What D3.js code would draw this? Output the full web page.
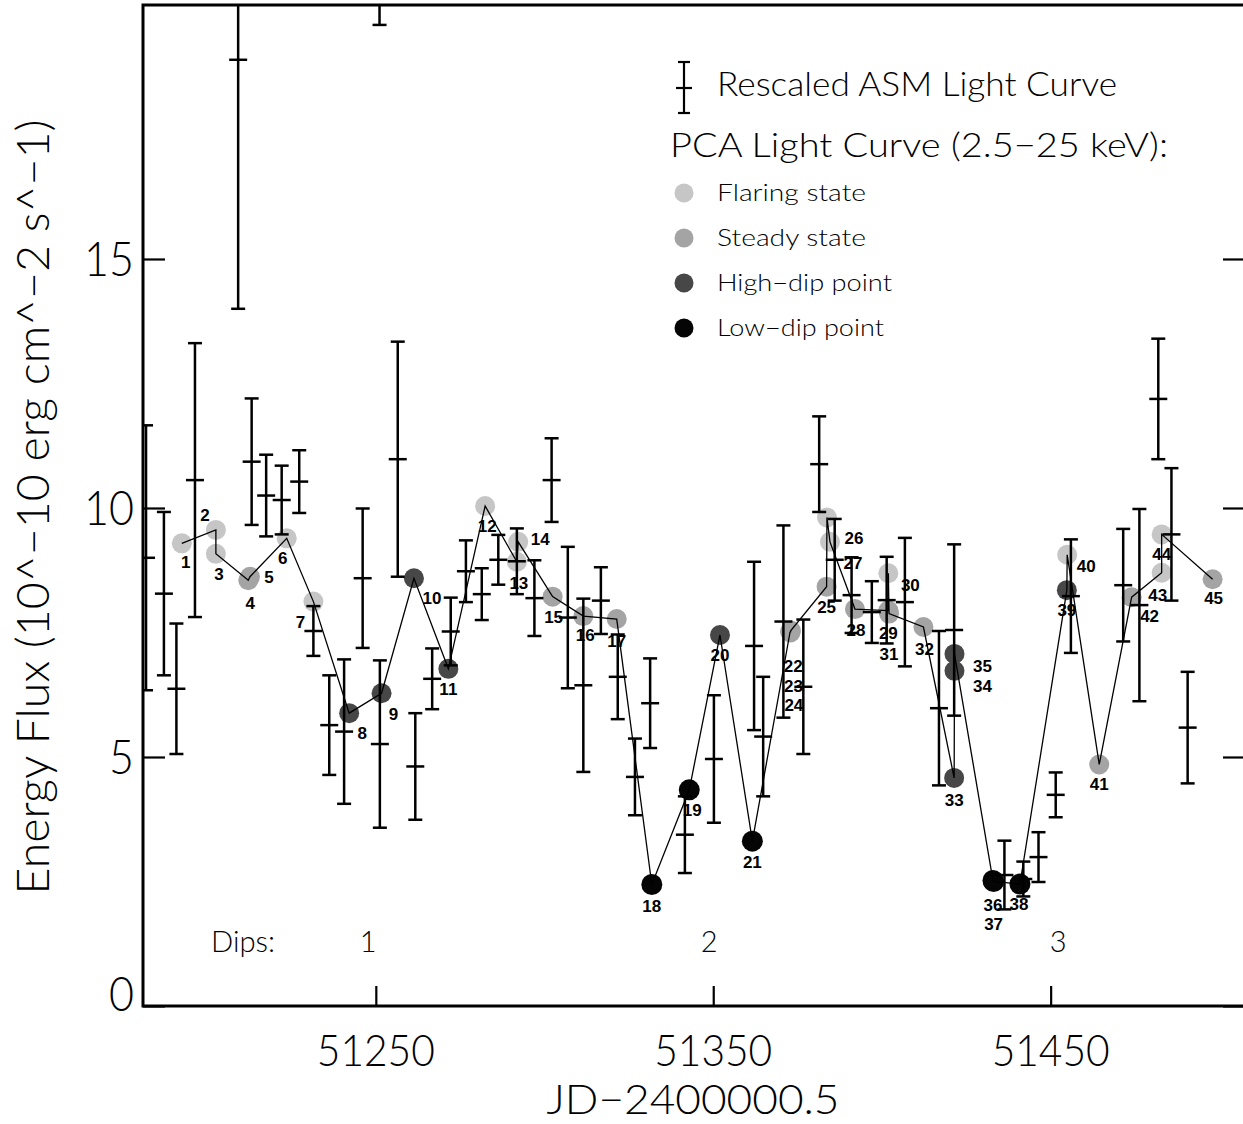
<!DOCTYPE html>
<html>
<head>
<meta charset="utf-8">
<script src="https://cdn.jsdelivr.net/npm/d3@7"></script>
<style>
  body { margin: 0; background: #fff; }
  text { font-family: Lato, "Liberation Sans", Arial, sans-serif; font-weight: 300; fill: #000; }
  text.num { font-family: "Liberation Sans", Arial, sans-serif; font-weight: bold; }
</style>
</head>
<body>
<script>
// Rescaled ASM light curve: day, flux, half error bar
const asmDay = [51181.9, 51187.2, 51190.9, 51196.4, 51209.2, 51213.2, 51217.5, 51222.1, 51227.3, 51231.5,
                51236.2, 51240.6, 51246.1, 51251.2, 51251.1, 51256.5, 51261.7, 51266.7, 51272.2, 51276.7,
                51281.4, 51286.3, 51291.8, 51297.0, 51302.1, 51306.9, 51311.5, 51316.7, 51321.7, 51326.8,
                51331.3, 51341.6, 51350.2, 51362.1, 51364.8, 51370.8, 51376.7, 51381.4, 51386.0, 51391.0,
                51397.0, 51401.4, 51406.8, 51416.9, 51421.4, 51436.3, 51441.9, 51446.4, 51451.5, 51456.0,
                51471.5, 51476.3, 51481.9, 51485.8, 51490.6];
const asmFlux = [9.00, 8.28, 6.37, 10.56, 19.0, 10.93, 10.25, 10.16, 10.53, 7.53,
                 5.64, 5.51, 8.59, 5.26, 23.0, 10.98, 4.81, 6.57, 7.52, 8.73,
                 8.27, 8.96, 8.93, 8.19, 10.56, 7.80, 6.44, 8.14, 6.61, 4.60,
                 6.08, 3.44, 4.96, 7.23, 5.41, 7.72, 6.41, 10.88, 8.96, 8.25,
                 7.91, 8.15, 8.11, 5.98, 7.55, 2.63, 2.55, 2.99, 4.24, 8.23,
                 8.45, 8.05, 12.19, 9.47, 5.59];
const asmErr = [2.66, 1.64, 1.31, 2.75, 5.0, 1.27, 0.82, 0.69, 0.63, 0.50,
                1.0, 1.45, 1.40, 1.68, 3.3, 2.36, 1.07, 0.61, 0.68, 0.62,
                0.52, 0.50, 0.66, 0.76, 0.84, 1.42, 1.74, 0.67, 0.85, 0.77,
                0.90, 0.77, 1.28, 1.69, 1.20, 1.93, 1.35, 0.96, 0.82, 0.76,
                0.62, 0.87, 1.29, 1.55, 1.72, 0.69, 0.35, 0.50, 0.45, 1.14,
                1.13, 1.93, 1.21, 1.33, 1.12];

// PCA light curve (2.5-25 keV), numbered points
const pcaLabel = ['1','2','3','4','5','6','7','8','9','10','11','12','13','14','15','16','17','18','19','20',
                  '21','22','23','24','25','26','27','28','29','30','31','32','33','34','35','36','37','38','39','40',
                  '41','42','43','44','45'];
const pcaDay = [51192.5, 51202.6, 51202.6, 51212.2, 51212.7, 51223.6, 51231.5, 51242.1, 51251.7, 51261.3,
                51271.5, 51282.4, 51291.8, 51292.2, 51302.4, 51311.5, 51321.4, 51331.8, 51342.9, 51352.0,
                51361.6, 51372.8, 51372.9, 51373.0, 51383.6, 51383.7, 51384.6, 51392.0, 51401.9, 51401.9,
                51402.1, 51412.3, 51421.4, 51421.5, 51421.5, 51432.9, 51433.1, 51440.9, 51454.8, 51454.9,
                51464.4, 51474.0, 51482.9, 51482.9, 51498.0];
const pcaFlux = [9.29, 9.56, 9.08, 8.55, 8.62, 9.39, 8.12, 5.88, 6.28, 8.59,
                 6.77, 10.04, 8.92, 9.32, 8.22, 7.83, 7.77, 2.44, 4.34, 7.45,
                 3.31, 7.52, 7.50, 7.54, 8.42, 9.81, 9.32, 7.97, 7.94, 8.69,
                 7.88, 7.61, 4.58, 6.73, 7.07, 2.52, 2.50, 2.45, 8.35, 9.06,
                 4.85, 8.21, 8.70, 9.47, 8.57];
// F = flaring, S = steady, H = high-dip, L = low-dip
const pcaState = ['F','F','F','S','S','F','F','H','H','H',
                  'H','F','F','F','S','S','S','L','L','H',
                  'L','S','S','S','S','F','F','S','S','F',
                  'S','S','H','H','H','L','L','L','H','F',
                  'S','S','F','F','S'];

const dipName = ['1', '2', '3'];
const dipDay = [51247.7, 51348.8, 51452.2];

const xTicks = [51250, 51350, 51450];
const yTicks = [0, 5, 10, 15];

// label placement relative to each point (pixels)
const labelOff = [[4,19],[-11,-15],[3,20],[2,23],[19,0],[-4,20],[-13,20],[13,20],[12,21],[18,20],
                  [0,20],[2,20],[2,21],[22,-3],[1,20],[2,19],[0,22],[0,22],[3,20],[0,20],
                  [0,21],[3,35],[3,54],[3,74],[0,20],[27,21],[23,21],[1,21],[0,22],[22,12],
                  [0,40],[1,22],[0,22],[28,15],[28,12],[0,24],[0,43],[-1,20],[0,20],[19,11],
                  [0,20],[18,19],[-4,22],[0,20],[1,19]];

const stateFill = { F: '#c6c6c6', S: '#a4a4a4', H: '#474747', L: '#050505' };

const W = 1243, H = 1124;
const plotL = 143, plotT = 5, plotR = 1245, plotB = 1006;

const x = d3.scaleLinear().domain([51181, 51507.6]).range([plotL, plotR]);
const y = d3.scaleLinear().domain([0, 20.1]).range([plotB, plotT]);

const svg = d3.select('body').append('svg')
    .attr('width', W).attr('height', H)
    .style('background', '#fff');

svg.append('clipPath').attr('id', 'plot')
    .append('rect').attr('x', plotL).attr('y', plotT)
    .attr('width', plotR - plotL).attr('height', plotB - plotT);

// ticks (inward), frame
function styleAxis(g) {
    g.select('.domain').remove();
    g.selectAll('.tick line').attr('stroke', '#000').attr('stroke-width', 2.2);
    g.selectAll('.tick text').remove();
}
svg.append('g').attr('transform', `translate(0,${plotB})`)
    .call(d3.axisTop(x).tickValues(xTicks).tickSize(20)).call(styleAxis);
svg.append('g').attr('transform', `translate(${plotL},0)`)
    .call(d3.axisRight(y).tickValues(yTicks).tickSize(22)).call(styleAxis);
svg.append('g').attr('transform', `translate(${W},0)`)
    .call(d3.axisLeft(y).tickValues(yTicks).tickSize(20)).call(styleAxis);

svg.append('rect')
    .attr('x', plotL).attr('y', plotT)
    .attr('width', plotR - plotL).attr('height', plotB - plotT)
    .attr('fill', 'none').attr('stroke', '#000').attr('stroke-width', 3);

// tick labels
svg.append('g').selectAll('text').data(xTicks).join('text')
    .attr('x', d => x(d)).attr('y', 1066)
    .attr('text-anchor', 'middle')
    .attr('font-size', 44)
    .attr('textLength', 118).attr('lengthAdjust', 'spacingAndGlyphs')
    .text(d => d);

svg.append('g').selectAll('text').data(yTicks).join('text')
    .attr('x', 134)
    .attr('y', d => d === 0 ? 1011 : y(d) + 17)
    .attr('text-anchor', 'end')
    .attr('font-size', 48)
    .attr('textLength', d => String(d).length * 25)
    .attr('lengthAdjust', 'spacingAndGlyphs')
    .text(d => d);

// axis titles
svg.append('text')
    .attr('x', 693).attr('y', 1114)
    .attr('text-anchor', 'middle')
    .attr('font-size', 41)
    .attr('textLength', 293).attr('lengthAdjust', 'spacingAndGlyphs')
    .text('JD\u22122400000.5');

svg.append('text')
    .attr('transform', 'translate(49,507) rotate(-90)')
    .attr('text-anchor', 'middle')
    .attr('font-size', 45)
    .attr('textLength', 775).attr('lengthAdjust', 'spacingAndGlyphs')
    .text('Energy Flux (10^\u221210 erg cm^\u22122 s^\u22121)');

const plot = svg.append('g').attr('clip-path', 'url(#plot)');

// PCA points
const pca = pcaDay.map((d, i) => ({ day: d, flux: pcaFlux[i], state: pcaState[i], label: pcaLabel[i], off: labelOff[i] }));

plot.append('g').selectAll('circle').data(pca).join('circle')
    .attr('cx', d => x(d.day)).attr('cy', d => y(d.flux))
    .attr('r', d => d.state === 'L' ? 10.5 : 10)
    .attr('fill', d => stateFill[d.state]);

plot.append('path')
    .datum(pca)
    .attr('fill', 'none').attr('stroke', '#000').attr('stroke-width', 1.3)
    .attr('d', d3.line().x(d => x(d.day)).y(d => y(d.flux)));

// ASM error bars
const asm = asmDay.map((d, i) => ({ day: d, flux: asmFlux[i], err: asmErr[i] }));
const bars = plot.append('g').attr('stroke', '#000').attr('stroke-width', 2.5)
    .selectAll('g').data(asm).join('g')
    .attr('transform', d => `translate(${x(d.day)},0)`);
bars.append('line')
    .attr('y1', d => y(d.flux - d.err)).attr('y2', d => y(d.flux + d.err));
bars.append('line').attr('x1', -7).attr('x2', 7)
    .attr('y1', d => y(d.flux - d.err)).attr('y2', d => y(d.flux - d.err));
bars.append('line').attr('x1', -7).attr('x2', 7)
    .attr('y1', d => y(d.flux + d.err)).attr('y2', d => y(d.flux + d.err));
bars.append('line').attr('x1', -9).attr('x2', 9)
    .attr('y1', d => y(d.flux)).attr('y2', d => y(d.flux));

// point numbers
svg.append('g').selectAll('text').data(pca).join('text')
    .attr('class', 'num')
    .attr('x', d => x(d.day) + d.off[0])
    .attr('y', d => y(d.flux) + d.off[1] + 6)
    .attr('text-anchor', 'middle')
    .attr('font-size', 17)
    .text(d => d.label);

// dip annotations
svg.append('text').attr('x', 211).attr('y', 952).attr('font-size', 29)
    .attr('textLength', 64).attr('lengthAdjust', 'spacingAndGlyphs').text('Dips:');
svg.append('g').selectAll('text').data(dipName).join('text')
    .attr('x', (d, i) => x(dipDay[i])).attr('y', 952)
    .attr('text-anchor', 'middle').attr('font-size', 29)
    .text(d => d);

// legend
const leg = svg.append('g');
const asmIcon = leg.append('g').attr('stroke', '#000').attr('stroke-width', 2.2);
asmIcon.append('line').attr('x1', 684).attr('x2', 684).attr('y1', 62).attr('y2', 113);
asmIcon.append('line').attr('x1', 678).attr('x2', 690).attr('y1', 62).attr('y2', 62);
asmIcon.append('line').attr('x1', 678).attr('x2', 690).attr('y1', 113).attr('y2', 113);
asmIcon.append('line').attr('x1', 676).attr('x2', 692).attr('y1', 88).attr('y2', 88);
leg.append('text').attr('x', 717).attr('y', 96).attr('font-size', 34)
    .attr('textLength', 400).attr('lengthAdjust', 'spacingAndGlyphs')
    .text('Rescaled ASM Light Curve');
leg.append('text').attr('x', 670).attr('y', 157).attr('font-size', 34)
    .attr('textLength', 498).attr('lengthAdjust', 'spacingAndGlyphs')
    .text('PCA Light Curve (2.5\u221225 keV):');

const legItems = [
    { state: 'F', text: 'Flaring state', w: 149 },
    { state: 'S', text: 'Steady state', w: 149 },
    { state: 'H', text: 'High\u2212dip point', w: 175 },
    { state: 'L', text: 'Low\u2212dip point', w: 167 }
];
const li = leg.selectAll('g.item').data(legItems).join('g')
    .attr('class', 'item')
    .attr('transform', (d, i) => `translate(0,${193 + i * 45})`);
li.append('circle').attr('cx', 684).attr('cy', 0).attr('r', 9.5)
    .attr('fill', d => stateFill[d.state]);
li.append('text').attr('x', 717).attr('y', 8).attr('font-size', 23)
    .attr('textLength', d => d.w).attr('lengthAdjust', 'spacingAndGlyphs')
    .text(d => d.text);
</script>
</body>
</html>
